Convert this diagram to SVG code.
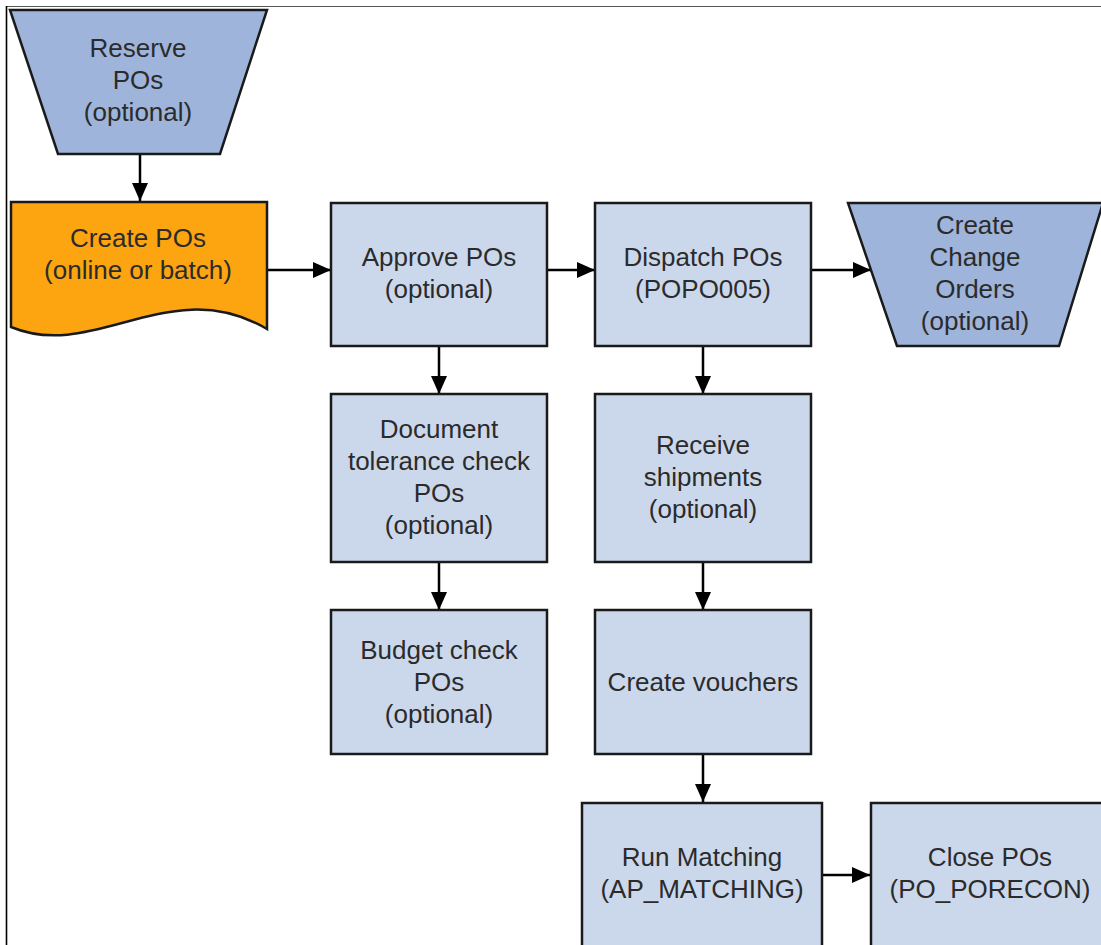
<svg xmlns="http://www.w3.org/2000/svg" width="1101" height="945" viewBox="0 0 1101 945">
<defs>
<style>
.box{fill:#CBD8EC;stroke:#1a1a1a;stroke-width:2.5}
.trap{fill:#9EB4DA;stroke:#1a1a1a;stroke-width:2.5}
.doc{fill:#FCA511;stroke:#1a1a1a;stroke-width:2.5}
text{font-family:"Liberation Sans",Arial,sans-serif;font-size:26px;fill:#2b2b2b;text-anchor:middle}
.conn line{stroke:#000;stroke-width:2.5;fill:none}
</style>
<marker id="ah" viewBox="0 0 18 16" refX="18" refY="8" markerWidth="18" markerHeight="16" markerUnits="userSpaceOnUse" orient="auto">
<path d="M0,0 L18,8 L0,16 Z" fill="#000"/>
</marker>
</defs>
<rect width="1101" height="945" fill="#fff"/>
<g id="frame">
<line x1="7" y1="6.5" x2="1101" y2="6.5" stroke="#555" stroke-width="1.2"/>
<line x1="6.5" y1="6" x2="6.5" y2="945" stroke="#000" stroke-width="1.6"/>
</g>
<g class="conn" id="connectors">
<line x1="140" y1="154" x2="140" y2="201" marker-end="url(#ah)"/>
<line x1="267" y1="270" x2="331" y2="270" marker-end="url(#ah)"/>
<line x1="547" y1="270" x2="595" y2="270" marker-end="url(#ah)"/>
<line x1="811" y1="270" x2="871" y2="270" marker-end="url(#ah)"/>
<line x1="439" y1="346" x2="439" y2="394" marker-end="url(#ah)"/>
<line x1="439" y1="562" x2="439" y2="610" marker-end="url(#ah)"/>
<line x1="703" y1="346" x2="703" y2="394" marker-end="url(#ah)"/>
<line x1="703" y1="562" x2="703" y2="610" marker-end="url(#ah)"/>
<line x1="703" y1="754" x2="703" y2="802" marker-end="url(#ah)"/>
<line x1="822" y1="875" x2="870" y2="875" marker-end="url(#ah)"/>
</g>
<g id="reserve">
<polygon class="trap" points="10,10 267,10 220,154 58,154"/>
<text x="138" y="57">Reserve</text>
<text x="138" y="89">POs</text>
<text x="138" y="121">(optional)</text>
</g>
<g id="create">
<path class="doc" d="M11,202 L267,202 L267,329 C170,272 95,362 11,327 Z"/>
<text x="138" y="247">Create POs</text>
<text x="138" y="279">(online or batch)</text>
</g>
<g id="approve">
<rect class="box" x="331" y="203" width="216" height="143"/>
<text x="439" y="266">Approve POs</text>
<text x="439" y="298">(optional)</text>
</g>
<g id="dispatch">
<rect class="box" x="595" y="203" width="216" height="143"/>
<text x="703" y="266">Dispatch POs</text>
<text x="703" y="298">(POPO005)</text>
</g>
<g id="change">
<polygon class="trap" points="848,203 1103,203 1059,346 897,346"/>
<text x="975" y="234">Create</text>
<text x="975" y="266">Change</text>
<text x="975" y="298">Orders</text>
<text x="975" y="330">(optional)</text>
</g>
<g id="doctol">
<rect class="box" x="331" y="394" width="216" height="168"/>
<text x="439" y="438">Document</text>
<text x="439" y="470">tolerance check</text>
<text x="439" y="502">POs</text>
<text x="439" y="534">(optional)</text>
</g>
<g id="budget">
<rect class="box" x="331" y="610" width="216" height="144"/>
<text x="439" y="659">Budget check</text>
<text x="439" y="691">POs</text>
<text x="439" y="723">(optional)</text>
</g>
<g id="receive">
<rect class="box" x="595" y="394" width="216" height="168"/>
<text x="703" y="454">Receive</text>
<text x="703" y="486">shipments</text>
<text x="703" y="518">(optional)</text>
</g>
<g id="vouchers">
<rect class="box" x="595" y="610" width="216" height="144"/>
<text x="703" y="691">Create vouchers</text>
</g>
<g id="matching">
<rect class="box" x="582" y="803" width="240" height="160"/>
<text x="702" y="866">Run Matching</text>
<text x="702" y="898">(AP_MATCHING)</text>
</g>
<g id="close">
<rect class="box" x="871" y="803" width="250" height="160"/>
<text x="990" y="866">Close POs</text>
<text x="990" y="898">(PO_PORECON)</text>
</g>
</svg>
